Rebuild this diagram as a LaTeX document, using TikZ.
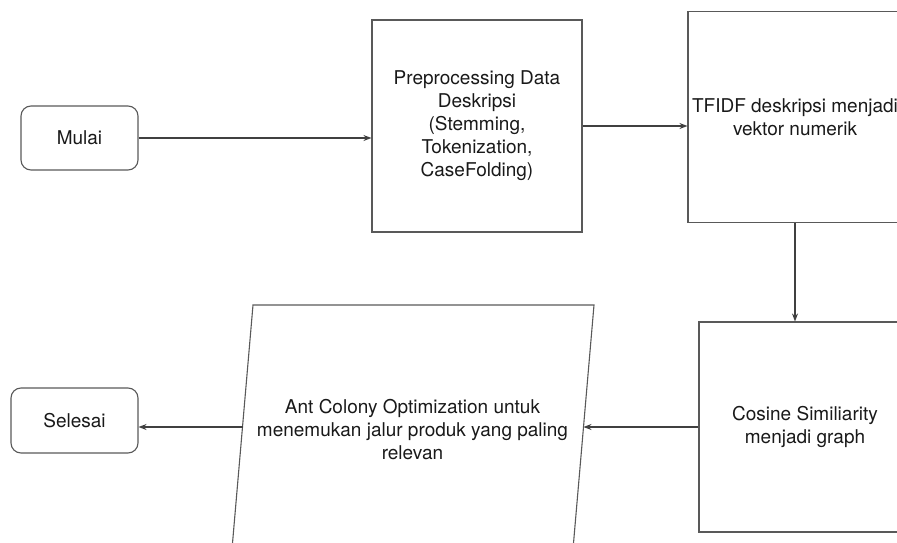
\documentclass[tikz,border=0pt]{standalone}
\usepackage{fontspec}
\setmainfont{TeX Gyre Heros}
\usetikzlibrary{arrows.meta}
\tikzset{
    proc/.style={draw=black!65, line width=1.1pt, text=black!90, align=center}, % 方框
    term/.style={proc, rounded corners=10pt}, % 开始/结束
    txt/.style={text=black!90, align=center}, % 只有文字
    arr/.style={-{Stealth[length=8pt, width=6pt]}, draw=black!75, line width=1.1pt} % 箭头
}

\begin{document}
\begin{tikzpicture}[x=1pt, y=-1pt, font=\fontsize{19}{23}\selectfont]
    \clip (0,0) rectangle (897,543);

    \node[term, minimum width=117pt, minimum height=64pt] (mulai) at (79.5,138) {Mulai};
    \node[proc, minimum width=210pt, minimum height=212pt] (pre) at (477,126)
        {Preprocessing Data\\Deskripsi\\(Stemming,\\Tokenization,\\CaseFolding)};
    \node[proc, minimum width=214pt, minimum height=211pt] (tfidf) at (795,117)
        {TFIDF deskripsi menjadi\\vektor numerik};
    \node[proc, minimum width=212pt, minimum height=210pt] (cos) at (805,427)
        {Cosine Similiarity\\menjadi graph};
    \node[term, minimum width=127pt, minimum height=65pt] (sel) at (74.5,420.5) {Selesai};

    % jajar genjang
    \draw[proc] (253,305) -- (594,305) -- (573,549) -- (232,549) -- cycle;
    \node[txt] (ant) at (412.5,430)
        {Ant Colony Optimization untuk\\menemukan jalur produk yang paling\\relevan};
    \coordinate (antR) at (583.5,427);
    \coordinate (antL) at (242.5,427);

    \draw[arr] (mulai.east) -- (mulai.east -| pre.west);
    \draw[arr] (pre.east) -- (pre.east -| tfidf.west);
    \draw[arr] (tfidf.south) -- (tfidf.south |- cos.north);
    \draw[arr] (cos.west) -- (antR);
    \draw[arr] (antL) -- (antL -| sel.east);

\end{tikzpicture}
\end{document}
